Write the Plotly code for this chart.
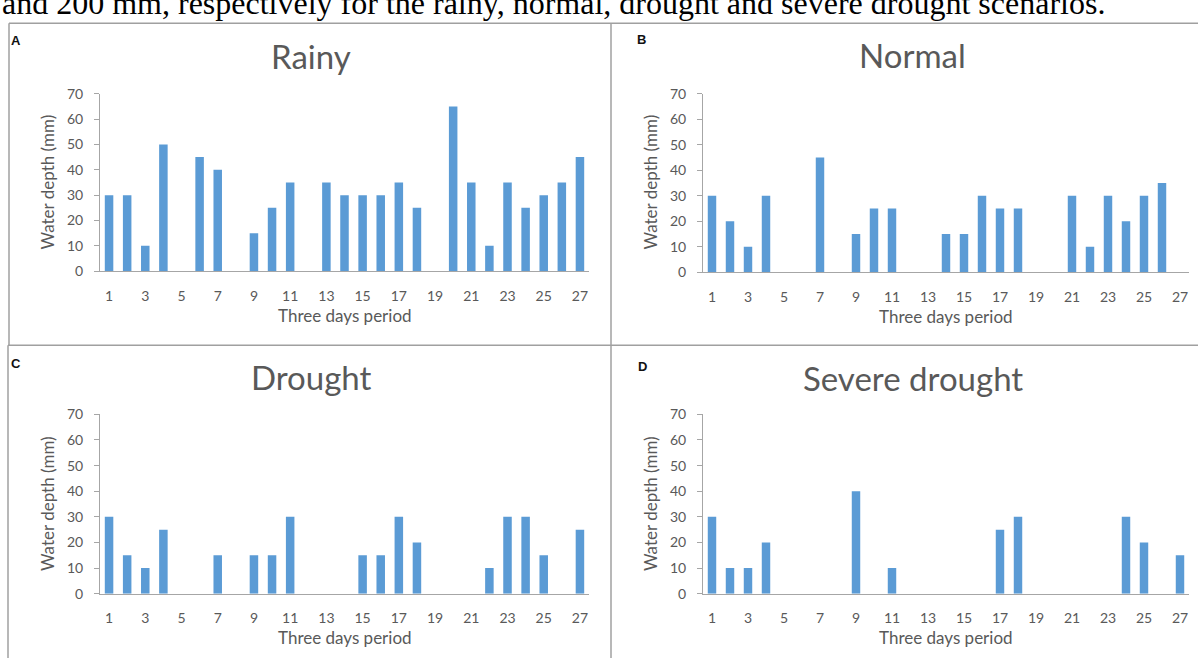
import plotly.graph_objects as go

# ---------------- data ----------------
periods = list(range(1, 28))
rainy = [30, 30, 10, 50, 0, 45, 40, 0, 15, 25, 35, 0, 35, 30, 30, 30, 35, 25, 0, 65, 35, 10, 35, 25, 30, 35, 45]
normal = [30, 20, 10, 30, 0, 0, 45, 0, 15, 25, 25, 0, 0, 15, 15, 30, 25, 25, 0, 0, 30, 10, 30, 20, 30, 35, 0]
drought = [30, 15, 10, 25, 0, 0, 15, 0, 15, 15, 30, 0, 0, 0, 15, 15, 30, 20, 0, 0, 0, 10, 30, 30, 15, 0, 25]
severe = [30, 10, 10, 20, 0, 0, 0, 0, 40, 0, 10, 0, 0, 0, 0, 0, 25, 30, 0, 0, 0, 0, 0, 30, 20, 0, 15]

panel_titles = ["Rainy", "Normal", "Drought", "Severe drought"]
panel_letters = ["A", "B", "C", "D"]
x_tick_vals = list(range(1, 28, 2))
y_tick_vals = [0, 10, 20, 30, 40, 50, 60, 70]
x_title = "Three days period"
y_title = "Water depth (mm)"
caption = "and 200 mm, respectively for the rainy, normal, drought and severe drought scenarios."

# ---------------- layout helpers ----------------
W, H = 1198, 666


def fx(x):
    return x / W


def fy(y):
    return 1 - y / H


FONT = "Lato, 'Open Sans', sans-serif"
GREY = "#595959"
BAR = "#5B9BD5"
AXIS = "#A6A6A6"

# pixel boxes: (x0, x1, ytop, ybottom)
boxes = [
    (100, 589, 87, 269),
    (703, 1189, 87, 270),
    (100, 589, 416, 600),
    (703, 1189, 416, 600),
]
title_pos = [(311, 48), (913, 47), (311, 378), (913, 379)]
letter_pos = [(16, 32), (641, 31), (16, 364), (642, 367)]
xtitle_pos = [(345, 315), (946, 316), (345, 645), (946, 645)]
ytitle_pos = [(47, 178), (650, 178), (47, 508), (650, 508)]

series = [rainy, normal, drought, severe]

fig = go.Figure()
annotations = []
for i, (vals, box) in enumerate(zip(series, boxes)):
    n = "" if i == 0 else str(i + 1)
    fig.add_trace(go.Bar(x=periods, y=vals, marker=dict(color=BAR, line=dict(width=0)),
                         width=0.47, xaxis="x" + n, yaxis="y" + n, showlegend=False))
    x0, x1, yt, yb = box
    fig.layout["xaxis" + n] = dict(
        domain=[fx(x0), fx(x1)], anchor="y" + n, range=[0.5, 27.5],
        tickmode="array", tickvals=x_tick_vals, showgrid=False, zeroline=False,
        showline=True, linecolor=AXIS, linewidth=1, ticks="",
        ticklabelstandoff=12,
        tickfont=dict(family=FONT, size=14, color=GREY), fixedrange=True)
    fig.layout["yaxis" + n] = dict(
        domain=[fy(yb), fy(yt)], anchor="x" + n, range=[0, 70],
        tickmode="array", tickvals=y_tick_vals, showgrid=False, zeroline=False,
        showline=True, linecolor=AXIS, linewidth=1, ticks="outside", ticklen=5,
        tickcolor=AXIS, ticklabelstandoff=8,
        tickfont=dict(family=FONT, size=14, color=GREY), fixedrange=True)
    tx, ty = title_pos[i]
    annotations.append(dict(text=panel_titles[i], x=fx(tx), y=fy(ty), xref="paper", yref="paper",
                            xanchor="center", yanchor="middle", showarrow=False,
                            font=dict(family=FONT, size=33, color=GREY)))
    lx, ly = letter_pos[i]
    annotations.append(dict(text="<b>" + panel_letters[i] + "</b>", x=fx(lx), y=fy(ly), xref="paper",
                            yref="paper", xanchor="center", yanchor="middle", showarrow=False,
                            font=dict(family="Liberation Sans, Arial", size=13, color="#111111")))
    ax_, ay_ = xtitle_pos[i]
    annotations.append(dict(text=x_title, x=fx(ax_), y=fy(ay_), xref="paper", yref="paper",
                            xanchor="center", yanchor="middle", showarrow=False,
                            font=dict(family=FONT, size=17, color=GREY)))
    yx, yy = ytitle_pos[i]
    annotations.append(dict(text=y_title, x=fx(yx), y=fy(yy), xref="paper", yref="paper",
                            xanchor="center", yanchor="middle", showarrow=False, textangle=-90,
                            font=dict(family=FONT, size=17, color=GREY)))

annotations.append(dict(text=caption, x=0, y=fy(14), xref="paper", yref="paper",
                        xanchor="left", yanchor="bottom", showarrow=False,
                        font=dict(family="Liberation Serif, Times New Roman, serif", size=32, color="#000000")))

line_style = dict(color="#A0A0A0", width=1.5)
shapes = []
for (x0, y0, x1, y1) in [(9, 14.5, 1198, 14.5), (9, 14.5, 9, 345), (611, 14.5, 611, 666),
                         (8, 345, 1198, 345), (8, 345, 8, 666)]:
    shapes.append(dict(type="line", xref="paper", yref="paper", x0=fx(x0), y0=fy(y0),
                       x1=fx(x1), y1=fy(y1), line=line_style))

fig.update_layout(width=W, height=H, margin=dict(l=0, r=0, t=0, b=0),
                  paper_bgcolor="white", plot_bgcolor="white",
                  annotations=annotations, shapes=shapes, bargap=0.55)

fig.write_html("out.html")
